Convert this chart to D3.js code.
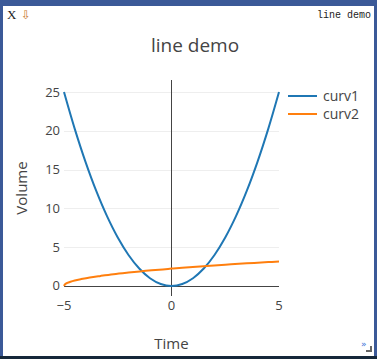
<!DOCTYPE html>
<html><head><meta charset="utf-8">
<script src="https://cdn.jsdelivr.net/npm/d3@7"></script>
<style>html,body{margin:0;padding:0;background:#fff;overflow:hidden}</style>
</head><body>
<svg id="chart" width="377" height="359"></svg>
<script>
const title = "line demo";
const xLabel = "Time";
const yLabel = "Volume";
const seriesNames = ["curv1", "curv2"];
const seriesColors = ["#1f77b4", "#ff7f0e"];
const xTicks = [-5, 0, 5];
const xTickLabels = ["\u22125", "0", "5"];
const yTicks = [0, 5, 10, 15, 20, 25];
const yTickLabels = ["0", "5", "10", "15", "20", "25"];

const curv1X = [-5,-4.5,-4,-3.5,-3,-2.5,-2,-1.5,-1,-0.5,0,0.5,1,1.5,2,2.5,3,3.5,4,4.5,5];
const curv1Y = [25,20.25,16,12.25,9,6.25,4,2.25,1,0.25,0,0.25,1,2.25,4,6.25,9,12.25,16,20.25,25];
const curv2X = [-5,-4.95,-4.85,-4.7,-4.5,-4.2,-3.8,-3.3,-2.7,-2,-1.2,-0.4,0,0.5,1.5,2.5,3.5,4.5,5];
const curv2Y = [0,0.22,0.39,0.55,0.71,0.89,1.10,1.30,1.52,1.73,1.95,2.14,2.24,2.35,2.55,2.74,2.92,3.08,3.16];

const svg = d3.select("#chart");
const font = "'Open Sans', verdana, arial, sans-serif";

// frame
svg.append("rect").attr("x",0).attr("y",0).attr("width",377).attr("height",359).attr("fill","#3b5998");
svg.append("rect").attr("x",0).attr("y",356).attr("width",377).attr("height",3).attr("fill","#16283a");
svg.append("rect").attr("x",3).attr("y",6).attr("width",371).attr("height",350).attr("fill","#fff");

svg.append("text").attr("x",7).attr("y",19).attr("font-family","'Liberation Serif', serif").attr("font-size",13).attr("fill","#222").text("X");
svg.append("text").attr("x",21).attr("y",19).attr("font-family","'DejaVu Sans', sans-serif").attr("font-size",12).attr("fill","#c87a30").text("\u21e9");
svg.append("text").attr("x",371).attr("y",18).attr("text-anchor","end").attr("font-family","'Liberation Mono', monospace").attr("font-size",10).attr("fill","#222").text("line demo");
svg.append("text").attr("x",361).attr("y",347).attr("font-family","'DejaVu Sans', sans-serif").attr("font-size",9).attr("fill","#3a6fd8").text("\u00bb");
svg.append("path").attr("d","M366,351 L371,351 L371,346").attr("fill","none").attr("stroke","#666").attr("stroke-width",2);

const x = d3.scaleLinear().domain([-5,5]).range([64,279]);
const y = d3.scaleLinear().domain([-1.29,26.55]).range([296,80]);
const py = v => Math.round(y(v)) + 0.5;

// grid
svg.append("g").selectAll("line").data(yTicks.slice(1)).join("line")
  .attr("x1",64).attr("x2",279).attr("y1",d=>py(d)).attr("y2",d=>py(d))
  .attr("stroke","#eee").attr("stroke-width",1);

// lines
const line = d3.line().x(d=>x(d[0])).y(d=>y(d[1])).curve(d3.curveCatmullRom);
const data = [d3.zip(curv1X, curv1Y), d3.zip(curv2X, curv2Y)];

// zero lines
svg.append("line").attr("x1",x(0)).attr("x2",x(0)).attr("y1",80).attr("y2",296).attr("stroke","#444").attr("stroke-width",1);
svg.append("line").attr("x1",64).attr("x2",279).attr("y1",py(0)).attr("y2",py(0)).attr("stroke","#444").attr("stroke-width",1);

svg.append("g").selectAll("path").data(data).join("path")
  .attr("d", line).attr("fill","none")
  .attr("stroke",(d,i)=>seriesColors[i]).attr("stroke-width",2);

// tick labels
svg.append("g").selectAll("text").data(yTicks).join("text")
  .attr("x",60).attr("y",d=>y(d)+4.5).attr("text-anchor","end")
  .attr("font-family",font).attr("font-size",13).attr("fill","#444")
  .text((d,i)=>yTickLabels[i]);
svg.append("g").selectAll("text").data(xTicks).join("text")
  .attr("x",d=>x(d)).attr("y",310).attr("text-anchor","middle")
  .attr("font-family",font).attr("font-size",13).attr("fill","#444")
  .text((d,i)=>xTickLabels[i]);

// axis titles
svg.append("text").attr("x",171.5).attr("y",349).attr("text-anchor","middle")
  .attr("font-family",font).attr("font-size",15).attr("fill","#444").text(xLabel);
svg.append("text").attr("transform","translate(27,188) rotate(-90)").attr("text-anchor","middle")
  .attr("font-family",font).attr("font-size",15).attr("fill","#444").text(yLabel);
svg.append("text").attr("x",195).attr("y",52).attr("text-anchor","middle")
  .attr("font-family",font).attr("font-size",19).attr("fill","#444").text(title);

// legend
const leg = svg.append("g").selectAll("g").data(seriesNames).join("g")
  .attr("transform",(d,i)=>`translate(288,${96+i*18})`);
leg.append("line").attr("x1",0).attr("x2",29).attr("y1",0).attr("y2",0)
  .attr("stroke",(d,i)=>seriesColors[i]).attr("stroke-width",2);
leg.append("text").attr("x",35).attr("y",5).attr("font-family",font).attr("font-size",14).attr("fill","#444").text(d=>d);
</script>
</body></html>
